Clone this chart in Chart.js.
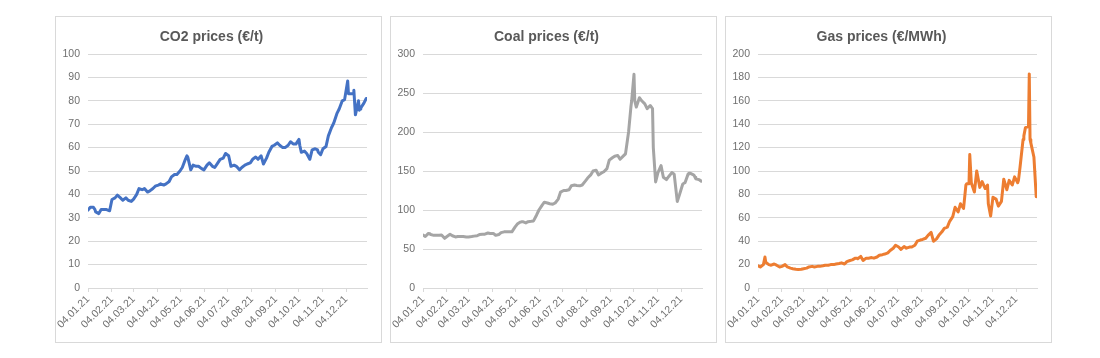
<!DOCTYPE html>
<html>
<head>
<meta charset="utf-8">
<script src="https://cdn.jsdelivr.net/npm/chart.js@4.4.1/dist/chart.umd.min.js"></script>
<style>
  html, body { margin: 0; padding: 0; background: #ffffff; }
  body { width: 1100px; height: 358px; position: relative; overflow: hidden; }
  .panel { position: absolute; top: 16px; width: 325px; height: 325px; border: 1px solid #d9d9d9; background: #fff; }
  .panel canvas { display: block; }
</style>
</head>
<body>
<div class="panel" style="left:55px"><canvas id="c1" width="325" height="325"></canvas></div>
<div class="panel" style="left:390px"><canvas id="c2" width="325" height="325"></canvas></div>
<div class="panel" style="left:725px"><canvas id="c3" width="325" height="325"></canvas></div>
<script>
// ---- DATA ----
const dates = [
  "04.01.21","07.01.21","11.01.21","13.01.21","14.01.21","18.01.21","21.01.21","25.01.21","28.01.21",
  "01.02.21","04.02.21","08.02.21","11.02.21","15.02.21","18.02.21","22.02.21","25.02.21",
  "01.03.21","04.03.21","08.03.21","11.03.21","15.03.21","18.03.21","22.03.21","25.03.21","29.03.21",
  "01.04.21","05.04.21","08.04.21","12.04.21","15.04.21","19.04.21","22.04.21","26.04.21","29.04.21",
  "03.05.21","06.05.21","10.05.21","12.05.21","13.05.21","17.05.21","20.05.21","24.05.21","27.05.21","31.05.21",
  "03.06.21","07.06.21","10.06.21","14.06.21","17.06.21","21.06.21","24.06.21","28.06.21",
  "01.07.21","05.07.21","08.07.21","12.07.21","15.07.21","19.07.21","22.07.21","26.07.21","29.07.21",
  "02.08.21","05.08.21","09.08.21","12.08.21","16.08.21","19.08.21","23.08.21","26.08.21","30.08.21",
  "02.09.21","06.09.21","09.09.21","13.09.21","16.09.21","20.09.21","23.09.21","27.09.21","30.09.21",
  "01.10.21","04.10.21","05.10.21","07.10.21","11.10.21","14.10.21","18.10.21","21.10.21","25.10.21","28.10.21","29.10.21",
  "01.11.21","04.11.21","08.11.21","11.11.21","15.11.21","18.11.21","22.11.21","25.11.21","29.11.21",
  "02.12.21","06.12.21","07.12.21","09.12.21","13.12.21","14.12.21","16.12.21","20.12.21","21.12.21","22.12.21","23.12.21","27.12.21","30.12.21"
];

const co2Prices = [
  33.3, 34.5, 34.5, 33.5, 32.5, 31.8, 33.5, 33.5, 33.5,
  33, 37.8, 38.5, 39.7, 38.5, 37.5, 38.5, 37.5,
  37, 38, 40, 42.5, 42, 42.5, 41, 41.5, 42.5,
  43.5, 44, 44.5, 44, 44.5, 45.5, 47.5, 48.5, 48.5,
  50, 51.5, 55, 56.5, 56, 50.5, 52.5, 52, 52, 51,
  50.5, 52.5, 53.5, 52, 51.5, 53.5, 55, 55.5,
  57.5, 56.5, 52, 52.5, 52, 50.5, 51.5, 52.5, 53,
  53.5, 55, 56, 55, 56.5, 53, 55.5, 58, 60.5,
  61, 62, 61, 60, 60, 61, 62.5, 61.5, 61.5,
  62, 63.5, 61, 58, 58.5, 57.5, 55, 59, 59.5, 59, 58,
  57, 59.5, 60.5, 65, 68.5, 70.5, 74.5, 76.5, 80,
  80.5, 88.5, 83, 83, 83, 84.5, 74, 80, 76, 76.5, 77, 79, 81
];

const coalPrices = [
  68, 66, 70, 69.5, 68.5, 67.5, 67.5, 67.5, 68,
  63.7, 66, 68.8, 67, 65.5, 66, 66, 66,
  65.5, 65.5, 66, 66.5, 67, 68.5, 69, 69, 70.5,
  70, 70, 67.5, 68.5, 71, 72, 72, 72, 72,
  78, 82, 84.5, 85, 85, 83.5, 85, 85.5, 86, 93.6,
  100, 106, 110, 109, 108, 107.5, 109, 114,
  123, 125, 125, 126, 131, 132, 131.5, 131, 132,
  137, 141, 145, 150, 151, 145, 147.5, 149, 153,
  164, 167, 169, 170, 165, 169, 172, 200, 232,
  240, 274, 240, 232, 244, 240, 236, 230, 234, 230, 180,
  136, 148, 157, 142, 139, 143, 148, 146, 111,
  120, 133, 134, 135, 146, 147, 147, 145, 144, 142, 140, 139, 137
];

const gasPrices = [
  19, 18, 20, 26.5, 22, 20, 19.5, 20.5, 19.5,
  18, 18.5, 20, 18, 17, 16.5, 16, 15.8,
  16, 16.5, 17, 18, 18.5, 18, 18.5, 18.5, 19,
  19.5, 19.5, 20, 20, 20.5, 21, 21.5, 20.5, 22.5,
  23.5, 24, 25.5, 25.5, 25, 27, 23.5, 25.5, 25.5, 26,
  25.5, 26.5, 28, 28.5, 29, 30, 32, 34,
  36.5, 35, 33, 35.5, 34, 35, 35, 36.5, 40,
  41, 41.5, 42.5, 45, 47.5, 40, 42, 45, 48,
  51, 52, 57, 61, 69, 65, 72, 68, 88,
  89, 89, 114, 90, 82, 100, 86, 91, 85, 88, 72,
  61.5, 77.5, 76, 70, 74, 93, 84, 92, 88,
  95, 90, 92, 103, 127, 130, 137, 138, 183, 127, 124, 112, 78
];

const tickLabels = ["04.01.21","04.02.21","04.03.21","04.04.21","04.05.21","04.06.21",
                    "04.07.21","04.08.21","04.09.21","04.10.21","04.11.21","04.12.21"];
const axisStart = "04.01.21";
const axisEnd = "31.12.21";

// ---- HELPERS ----
function dayOf(s) {
  const [d, m, y] = s.split(".").map(Number);
  return Date.UTC(2000 + y, m - 1, d) / 86400000;
}
const day0 = dayOf(axisStart);
const xs = dates.map(s => dayOf(s) - day0);
const tickVals = tickLabels.map(s => dayOf(s) - day0);
const labelByVal = {};
tickLabels.forEach((s, i) => { labelByVal[tickVals[i]] = s; });

const FONT = "'Liberation Sans', Arial, sans-serif";
const GRID = "#d9d9d9";
const TXT = "#6f6f6f";

function makeChart(id, title, values, color, yMax, yStep) {
  new Chart(document.getElementById(id), {
    type: "line",
    data: {
      datasets: [{
        data: xs.map((x, i) => ({ x: x, y: values[i] })),
        borderColor: color,
        borderWidth: 3,
        pointRadius: 0,
        tension: 0,
        borderJoinStyle: "round",
        borderCapStyle: "round",
        fill: false
      }]
    },
    options: {
      responsive: false,
      animation: false,
      devicePixelRatio: 1,
      layout: { padding: { left: 0, right: 14, top: 0, bottom: 0 } },
      plugins: {
        legend: { display: false },
        tooltip: { enabled: false },
        title: {
          display: true,
          text: title,
          color: "#595959",
          font: { family: FONT, size: 14, weight: "bold", lineHeight: 1.2 },
          padding: { top: 11.6, bottom: 8.6 }
        }
      },
      scales: {
        x: {
          type: "linear",
          min: 0,
          max: dayOf(axisEnd) - day0,
          afterBuildTicks: (scale) => { scale.ticks = tickVals.map(v => ({ value: v })); },
          afterFit: (scale) => { scale.height = 54; },
          ticks: {
            autoSkip: false,
            maxRotation: 45,
            minRotation: 45,
            padding: 1,
            color: TXT,
            font: { family: FONT, size: 10.5 },
            callback: (v) => labelByVal[v] || ""
          },
          grid: { drawOnChartArea: false, drawTicks: true, tickLength: 4, color: GRID, lineWidth: 1 },
          border: { display: true, color: GRID, width: 1 }
        },
        y: {
          min: 0,
          max: yMax,
          afterFit: (scale) => { scale.width = 32; },
          ticks: {
            stepSize: yStep,
            padding: 8,
            color: TXT,
            font: { family: FONT, size: 10.5 }
          },
          grid: { color: GRID, lineWidth: 1, drawTicks: false },
          border: { display: false }
        }
      }
    }
  });
}

makeChart("c1", "CO2 prices (€/t)", co2Prices, "#4472c4", 100, 10);
makeChart("c2", "Coal prices (€/t)", coalPrices, "#a5a5a5", 300, 50);
makeChart("c3", "Gas prices (€/MWh)", gasPrices, "#ed7d31", 200, 20);
</script>
</body>
</html>
